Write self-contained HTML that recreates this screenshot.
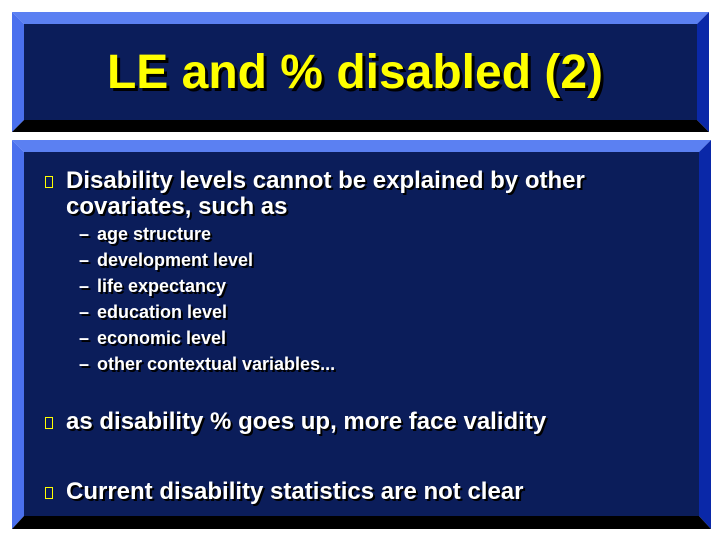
<!DOCTYPE html>
<html><head><meta charset="utf-8"><style>
body{margin:0;width:720px;height:540px;background:#fff;position:relative;overflow:hidden;font-family:"Liberation Sans",sans-serif;font-weight:bold}
svg{position:absolute;left:0;top:0}
.t{position:absolute;color:#fff;text-shadow:2px 2px 0 #000;white-space:nowrap}
.title{left:0;width:710px;text-align:center;top:45px;font-size:48px;color:#ffff00;text-shadow:3px 3px 0 #000}
.b{font-size:24px;left:66px}
.s{font-size:18px;left:97px}
.d{font-size:18px;left:79px}
.bx{position:absolute;left:45px;width:8px;height:12px;border:1.5px solid #ffff00;box-sizing:border-box}
</style></head><body>
<svg width="720" height="540">
<g>
<polygon points="12,12 709,12 697,24 24,24" fill="#5b80f2"/>
<polygon points="12,12 24,24 24,120 12,132" fill="#4a70ee"/>
<polygon points="709,12 709,132 697,120 697,24" fill="#0a28a8"/>
<polygon points="12,132 709,132 697,120 24,120" fill="#000"/>
<rect x="24" y="24" width="673" height="96" fill="#0b1d5a"/>
</g>
<g>
<polygon points="12,140 711,140 699,152 24,152" fill="#5b80f2"/>
<polygon points="12,140 24,152 24,516 12,529" fill="#4a70ee"/>
<polygon points="711,140 711,529 699,516 699,152" fill="#0a28a8"/>
<polygon points="12,529 711,529 699,516 24,516" fill="#000"/>
<rect x="24" y="152" width="675" height="364" fill="#0b1d5a"/>
</g>
</svg>
<div class="t title">LE and % disabled (2)</div>
<div class="bx" style="top:176px"></div>
<div class="t b" style="top:167px">Disability levels cannot be explained by other</div>
<div class="t b" style="top:193px">covariates, such as</div>
<div class="t d" style="top:224px">–</div><div class="t s" style="top:224px">age structure</div>
<div class="t d" style="top:250px">–</div><div class="t s" style="top:250px">development level</div>
<div class="t d" style="top:276px">–</div><div class="t s" style="top:276px">life expectancy</div>
<div class="t d" style="top:302px">–</div><div class="t s" style="top:302px">education level</div>
<div class="t d" style="top:328px">–</div><div class="t s" style="top:328px">economic level</div>
<div class="t d" style="top:354px">–</div><div class="t s" style="top:354px">other contextual variables...</div>
<div class="bx" style="top:417px"></div>
<div class="t b" style="top:408px">as disability % goes up, more face validity</div>
<div class="bx" style="top:487px"></div>
<div class="t b" style="top:478px">Current disability statistics are not clear</div>
</body></html>
